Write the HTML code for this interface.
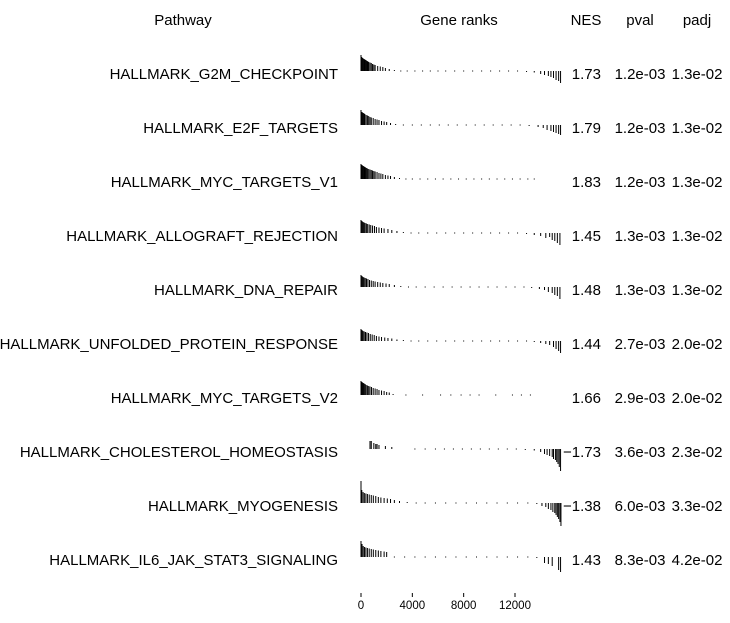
<!DOCTYPE html>
<html><head><meta charset="utf-8"><style>
body{margin:0;background:#fff;font-family:"Liberation Sans",sans-serif;}
svg text{font-family:"Liberation Sans",sans-serif;font-size:15px;fill:#000;}
</style></head><body>
<svg id="chart" width="730" height="618" xmlns="http://www.w3.org/2000/svg">
<text x="183" y="25" text-anchor="middle">Pathway</text>
<text x="459" y="25" text-anchor="middle">Gene ranks</text>
<text x="586" y="25" text-anchor="middle">NES</text>
<text x="640" y="25" text-anchor="middle">pval</text>
<text x="697" y="25" text-anchor="middle">padj</text>
<g id="rows"></g>
<g id="axis"></g>
</svg>
<script>
const pathways=["HALLMARK_G2M_CHECKPOINT","HALLMARK_E2F_TARGETS","HALLMARK_MYC_TARGETS_V1","HALLMARK_ALLOGRAFT_REJECTION","HALLMARK_DNA_REPAIR","HALLMARK_UNFOLDED_PROTEIN_RESPONSE","HALLMARK_MYC_TARGETS_V2","HALLMARK_CHOLESTEROL_HOMEOSTASIS","HALLMARK_MYOGENESIS","HALLMARK_IL6_JAK_STAT3_SIGNALING"];
const nes=["1.73","1.79","1.83","1.45","1.48","1.44","1.66","\u22121.73","\u22121.38","1.43"];
const pval=["1.2e-03","1.2e-03","1.2e-03","1.3e-03","1.3e-03","2.7e-03","2.9e-03","3.6e-03","6.0e-03","8.3e-03"];
const padj=["1.3e-02","1.3e-02","1.3e-02","1.3e-02","1.3e-02","2.0e-02","2.0e-02","2.3e-02","3.3e-02","4.2e-02"];
const xTicks=[0,4000,8000,12000];
const ranks0=[0,60,120,180,240,300,360,420,480,540,600,700,800,900,1000,1100,1300,1500,1700,1900,2200,2600,3100,3600,4200,4800,5400,6000,6600,7300,8000,8700,9400,10100,10800,11500,12200,12900,13500,14000,14300,14600,14800,15000,15200,15400,15550];
const stats0=[1.6,1.4,1.3,1.25,1.2,1.15,1.1,1.05,1.0,0.95,0.9,0.85,0.8,0.7,0.65,0.6,0.5,0.45,0.4,0.3,0.2,0.1,0.05,0.05,0.05,0.05,0.05,0.05,0.05,0.05,-0.05,-0.05,-0.05,-0.05,-0.05,-0.05,-0.05,-0.1,-0.15,-0.3,-0.4,-0.5,-0.6,-0.7,-0.9,-1.0,-1.2];
const ranks1=[0,60,120,180,240,300,400,500,600,700,800,950,1100,1250,1400,1600,1800,2000,2300,2700,3300,4000,4700,5400,6100,6800,7500,8200,8900,9600,10300,11000,11700,12400,13100,13800,14200,14500,14800,15000,15200,15400,15550];
const stats1=[1.5,1.3,1.25,1.2,1.15,1.1,1.0,0.95,0.9,0.8,0.75,0.7,0.6,0.55,0.5,0.4,0.35,0.3,0.2,0.1,0.05,0.05,0.05,0.05,0.05,0.05,0.05,0.05,-0.05,-0.05,-0.05,-0.05,-0.05,-0.05,-0.1,-0.2,-0.3,-0.5,-0.6,-0.7,-0.8,-0.9,-1.0];
const ranks2=[0,60,120,180,240,300,360,420,500,600,700,800,900,1000,1100,1250,1400,1550,1700,1900,2100,2300,2600,3000,3500,4000,4600,5200,5800,6400,7000,7600,8200,8800,9400,10000,10600,11200,11800,12400,13000,13500];
const stats2=[1.5,1.4,1.35,1.3,1.25,1.2,1.15,1.1,1.05,1.0,0.95,0.9,0.85,0.8,0.75,0.7,0.6,0.55,0.5,0.4,0.35,0.3,0.2,0.1,0.05,0.05,0.05,0.05,0.05,0.05,0.05,0.05,0.05,0.05,0.05,0.05,0.05,0.05,0.05,0.05,0.05,0.05];
const ranks3=[0,80,160,240,320,420,520,640,760,900,1050,1200,1400,1600,1800,2100,2400,2800,3300,3900,4500,5200,5900,6600,7300,8000,8700,9400,10100,10800,11500,12200,12900,13500,14000,14400,14700,14900,15100,15300,15500];
const stats3=[1.3,1.2,1.1,1.05,1.0,0.95,0.9,0.85,0.8,0.75,0.7,0.6,0.55,0.5,0.45,0.4,0.3,0.2,0.1,0.05,0.05,0.05,0.05,0.05,0.05,0.05,-0.05,-0.05,-0.05,-0.05,-0.05,-0.05,-0.1,-0.2,-0.3,-0.5,-0.4,-0.7,-0.8,-1.0,-1.2];
const ranks4=[0,80,160,240,330,430,540,660,800,950,1100,1300,1500,1700,1950,2200,2600,3100,3700,4300,5000,5700,6400,7100,7800,8500,9200,9900,10600,11300,12000,12700,13300,13900,14300,14600,14900,15100,15300,15500];
const stats4=[1.2,1.1,1.0,0.95,0.9,0.85,0.8,0.7,0.65,0.6,0.55,0.5,0.45,0.4,0.35,0.3,0.2,0.1,0.05,0.05,0.05,0.05,0.05,0.05,0.05,0.05,-0.05,-0.05,-0.05,-0.05,-0.05,-0.05,-0.1,-0.2,-0.3,-0.5,-0.6,-0.8,-0.9,-1.2];
const ranks5=[0,80,160,250,350,460,580,720,870,1030,1200,1400,1600,1850,2100,2400,2800,3300,3900,4500,5200,5900,6600,7300,8000,8700,9400,10100,10800,11500,12200,12900,13500,14000,14400,14700,15000,15200,15400,15550];
const stats5=[1.2,1.1,1.0,0.95,0.9,0.85,0.8,0.7,0.65,0.6,0.5,0.45,0.4,0.35,0.3,0.25,0.15,0.1,0.05,0.05,0.05,0.05,0.05,0.05,0.05,0.05,-0.05,-0.05,-0.05,-0.05,-0.05,-0.05,-0.1,-0.2,-0.3,-0.4,-0.6,-0.8,-1.0,-1.2];
const ranks6=[0,60,120,180,240,320,400,500,600,700,820,950,1100,1250,1400,1600,1800,2000,2200,2500,3500,4800,6200,7000,7800,8500,9200,10500,11800,12500,13200];
const stats6=[1.4,1.3,1.25,1.2,1.15,1.1,1.0,0.95,0.9,0.85,0.8,0.7,0.65,0.6,0.5,0.45,0.4,0.3,0.25,0.1,0.05,0.05,0.05,0.05,0.05,0.05,0.05,-0.05,-0.05,-0.05,-0.05];
const ranks7=[700,800,1000,1150,1250,1400,1900,2400,4200,5000,5800,6500,7200,7900,8600,9300,10000,10700,11400,12100,12800,13500,14000,14300,14500,14700,14900,15000,15150,15250,15350,15450,15550];
const stats7=[0.8,0.8,0.6,0.5,0.5,0.4,0.3,0.2,-0.05,-0.05,-0.05,-0.05,-0.05,-0.05,-0.05,-0.05,-0.05,-0.05,-0.05,-0.05,-0.1,-0.15,-0.3,-0.5,-0.6,-0.7,-0.8,-1.0,-1.1,-1.3,-1.5,-1.8,-2.2];
const ranks8=[0,60,160,260,380,500,640,800,960,1150,1350,1550,1800,2050,2300,2600,3000,3600,4300,5000,5800,6600,7400,8200,9000,9800,10600,11400,12200,13000,13700,14100,14400,14600,14800,14950,15100,15200,15300,15400,15500,15580];
const stats8=[2.2,1.3,1.1,1.0,0.95,0.9,0.85,0.8,0.75,0.7,0.6,0.55,0.5,0.45,0.4,0.3,0.2,0.1,0.05,0.05,0.05,0.05,0.05,0.05,-0.05,-0.05,-0.05,-0.05,-0.05,-0.05,-0.1,-0.3,-0.4,-0.6,-0.7,-0.9,-1.0,-1.2,-1.4,-1.6,-1.9,-2.3];
const ranks9=[0,80,170,270,380,500,640,800,960,1150,1350,1550,1800,2000,2600,3400,4200,5000,5800,6600,7400,8200,9000,9800,10600,11400,12200,13000,13700,14300,14600,14900,15400,15550];
const stats9=[1.6,1.3,1.1,1.0,0.95,0.9,0.85,0.8,0.75,0.7,0.65,0.6,0.55,0.5,0.05,0.05,0.05,0.05,0.05,0.05,0.05,0.05,-0.05,-0.05,-0.05,-0.05,-0.05,-0.05,-0.1,-0.6,-0.7,-0.9,-1.3,-1.5];
const rankSets=[ranks0,ranks1,ranks2,ranks3,ranks4,ranks5,ranks6,ranks7,ranks8,ranks9];
const statSets=[stats0,stats1,stats2,stats3,stats4,stats5,stats6,stats7,stats8,stats9];

const NS="http://www.w3.org/2000/svg";
const xScale=r=>361+r*(515-361)/12000;
const yScale=s=>s*10;
const rowBase=i=>71+i*54;
const rowsG=document.getElementById('rows');
function mk(tag,attrs,parent){const e=document.createElementNS(NS,tag);for(const k in attrs)e.setAttribute(k,attrs[k]);parent.appendChild(e);return e;}
pathways.forEach((p,i)=>{
  const g=mk('g',{},rowsG);
  
  
  const ty=rowBase(i)+8;
  const t1=mk('text',{x:338,y:ty,'text-anchor':'end'},g);t1.textContent=p;
  
  
  const t2=mk('text',{x:601,y:ty,'text-anchor':'end'},g);t2.textContent=nes[i];
  
  
  const t3=mk('text',{x:640,y:ty,'text-anchor':'middle'},g);t3.textContent=pval[i];
  
  
  const t4=mk('text',{x:697,y:ty,'text-anchor':'middle'},g);t4.textContent=padj[i];
  
  
  const rs=rankSets[i],ss=statSets[i],b=rowBase(i);
  rs.forEach((r,j)=>{
    const h=yScale(ss[j]);const x=xScale(r);
    let y1=b,y2=b-h;
    if(Math.abs(h)<1){y1=b-0.5;y2=b+0.5;}
    const l=mk('line',{x1:x,x2:x,y1:y1,y2:y2,stroke:'#000','stroke-width':1},g);
    
    
  });
});
const ax=document.getElementById('axis');
xTicks.forEach(v=>{
  const x=xScale(v);
  const tk=mk('line',{x1:x,x2:x,y1:593,y2:597,stroke:'#000','stroke-width':1},ax);
  
  
  const tl=mk('text',{x:x,y:609,'text-anchor':'middle',style:'font-size:11.5px'},ax);
  tl.textContent=v;
  
  
});
</script>
</body></html>
